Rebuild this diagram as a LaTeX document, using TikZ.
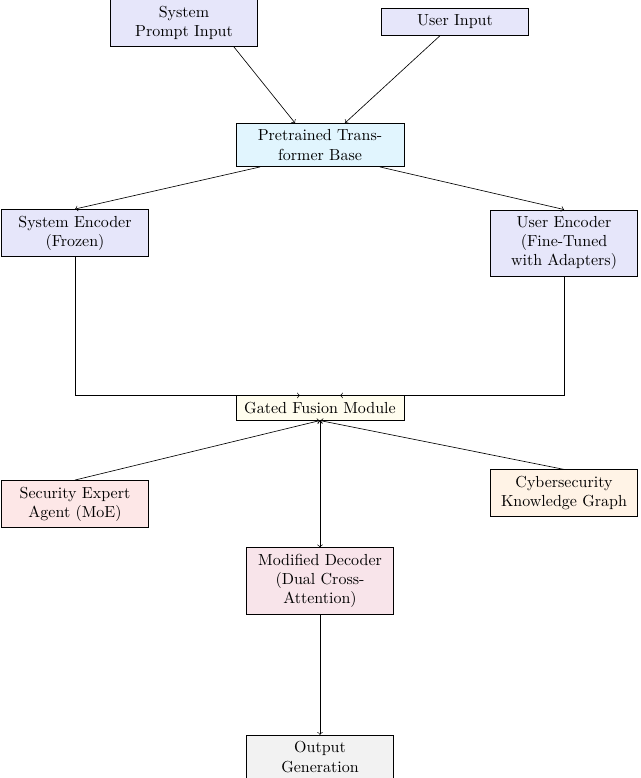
\documentclass[tikz,border=0pt]{standalone}
\usepackage{tikz}
\usetikzlibrary{positioning}

\definecolor{inputBlue}{HTML}{E6E6FA}
\definecolor{baseCyan}{HTML}{E1F5FE}
\definecolor{fusionIvory}{HTML}{FFFDEE}
\definecolor{agentPink}{HTML}{FDE7E7}
\definecolor{graphPeach}{HTML}{FFF3E6}
\definecolor{decoderRose}{HTML}{F8E4EA}
\definecolor{outputGray}{HTML}{F2F2F2}

\begin{document}
\begin{tikzpicture}[
    x=0.625pt, y=-0.625pt,
    block/.style={%
      draw,
      rectangle,
      align=center,
      text width=84pt,
      inner sep=4pt,
    },
    wide/.style={%
      block,
      text width=97pt,
    },
    link/.style={->},
  ]
    \useasboundingbox (0,0) rectangle (640,778);

    \node [block, fill=inputBlue] (prompt) at (184,23) {System\\Prompt Input};
    \node [block, fill=inputBlue] (user) at (455,22) {User Input};
    \node [wide, fill=baseCyan] (base) at (320,145) {Pretrained Transformer Base};
    \node [block, fill=inputBlue] (sysEnc) at (75,233) {System Encoder\\(Frozen)};
    \node [block, fill=inputBlue] (userEnc) at (564,243) {User Encoder\\(Fine-Tuned\\with Adapters)};
    \node [wide, fill=fusionIvory] (fusion) at (320,408) {Gated Fusion Module};
    \node [block, fill=agentPink] (agent) at (75,504) {Security Expert Agent (MoE)};
    \node [block, fill=graphPeach] (graph) at (564,493) {Cybersecurity\\Knowledge Graph};
    \node [block, fill=decoderRose] (decoder) at (320,581) {Modified Decoder\\(Dual Cross-\\Attention)};
    \node [block, fill=outputGray] (output) at (320,757) {Output Generation};

    \draw [link] ([xshift=31pt]prompt.south) -- ([xshift=-15.6pt]base.north);
    \draw [link] ([xshift=-9.4pt]user.south) -- ([xshift=15.6pt]base.north);
    \draw [link] ([xshift=-37.5pt]base.south) -- (sysEnc.north);
    \draw [link] ([xshift=37.5pt]base.south) -- (userEnc.north);
    \draw [link] (sysEnc.south) |- ([xshift=-12.5pt]fusion.north);
    \draw [link] (userEnc.south) |- ([xshift=12.5pt]fusion.north);
    \draw [link] (agent.north) -- (fusion.south);
    \draw [link] (graph.north) -- (fusion.south);
    \draw [<->] (fusion.south) -- (decoder.north);
    \draw [link] (decoder.south) -- (output.north);
\end{tikzpicture}
\end{document}
